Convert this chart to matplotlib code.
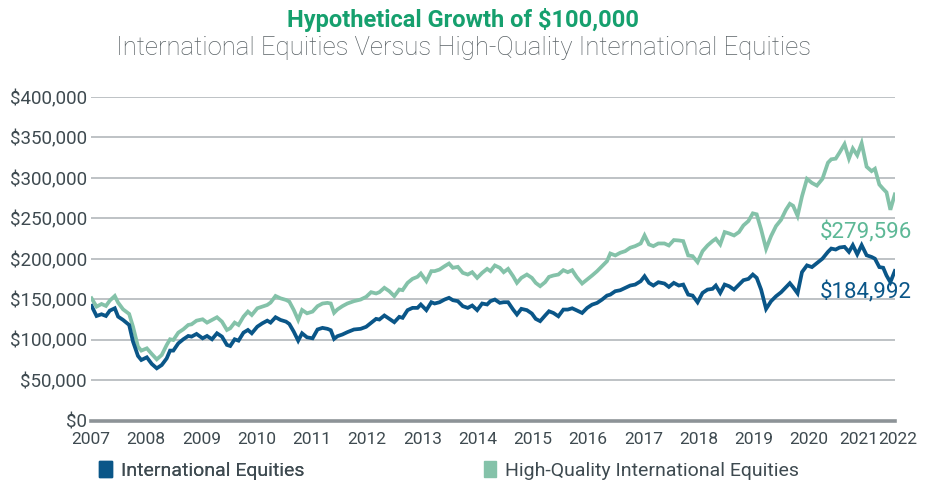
import matplotlib
matplotlib.use("Agg")
import matplotlib.pyplot as plt
import matplotlib.transforms as mtransforms
from matplotlib.patches import Patch
from matplotlib.ticker import FuncFormatter, FixedLocator

plt.rcParams['font.family'] = ['Roboto', 'DejaVu Sans']

# dates (fractional years), roughly monthly
dates = [
    2007.01, 2007.10, 2007.19, 2007.27, 2007.34, 2007.43, 2007.49, 2007.58, 2007.69, 2007.76,
    2007.85, 2007.91, 2008.01, 2008.10, 2008.19, 2008.28, 2008.37, 2008.43, 2008.49, 2008.58,
    2008.67, 2008.76, 2008.82, 2008.91,
    2009.02, 2009.10, 2009.19, 2009.28, 2009.37, 2009.46, 2009.52, 2009.60, 2009.67, 2009.76,
    2009.84, 2009.91, 2010.01, 2010.10, 2010.19, 2010.25, 2010.34, 2010.43, 2010.53, 2010.59,
    2010.67, 2010.75, 2010.82, 2010.91, 2011.01,
    2011.10, 2011.19, 2011.28, 2011.34, 2011.40, 2011.46, 2011.55, 2011.64, 2011.76, 2011.88,
    2011.98, 2012.07, 2012.16, 2012.22, 2012.31, 2012.40, 2012.49, 2012.58, 2012.64, 2012.73,
    2012.82, 2012.91, 2012.97, 2013.07, 2013.16,
    2013.22, 2013.31, 2013.40, 2013.48, 2013.55, 2013.64, 2013.73, 2013.82, 2013.90, 2013.99,
    2014.08, 2014.17, 2014.23, 2014.31, 2014.40, 2014.47, 2014.55, 2014.64, 2014.71, 2014.79,
    2014.89, 2014.98, 2015.05, 2015.13, 2015.22,
    2015.29, 2015.37, 2015.46, 2015.55, 2015.63, 2015.71, 2015.79, 2015.89, 2015.98, 2016.07,
    2016.16, 2016.25, 2016.34, 2016.40, 2016.49, 2016.58, 2016.67, 2016.76, 2016.85, 2016.95,
    2017.02, 2017.10, 2017.18, 2017.27,
    2017.38, 2017.46, 2017.55, 2017.64, 2017.72, 2017.81, 2017.89, 2017.98, 2018.07, 2018.16,
    2018.25, 2018.31, 2018.39, 2018.47, 2018.55, 2018.64, 2018.73, 2018.81, 2018.90, 2018.98,
    2019.05, 2019.13, 2019.22, 2019.31, 2019.40,
    2019.49, 2019.58, 2019.65, 2019.71, 2019.79, 2019.87, 2019.96, 2020.05, 2020.14, 2020.24,
    2020.34, 2020.40, 2020.48, 2020.55, 2020.64, 2020.72, 2020.79, 2020.87, 2020.95, 2021.04,
    2021.13, 2021.19, 2021.27, 2021.34, 2021.40, 2021.47, 2021.55,
]

# values in $ thousands
hq_intl = [
    151.2, 140.9, 144.2, 141.8, 148.4, 154.1, 145.9, 137.6, 131.9, 116.2,
    91.5, 86.6, 89.4, 82.4, 75.8, 81.2, 93.6, 100.6, 99.7, 108.8,
    112.9, 118.3, 119.1, 123.6,
    125.3, 121.2, 124.5, 127.8, 122.4, 112.1, 114.2, 121.2, 118.3, 128.6,
    134.8, 130.6, 138.9, 140.9, 143.0, 145.9, 154.1, 151.2, 149.2, 147.1,
    136.8, 124.5, 136.8, 132.7, 134.8,
    141.5, 144.8, 145.6, 144.8, 133.3, 137.4, 141.5, 144.8, 147.7, 149.7,
    153.0, 158.8, 157.2, 158.8, 164.2, 160.0, 153.9, 162.1, 161.3, 170.3,
    175.3, 177.8, 181.9, 172.4, 184.8,
    184.8, 186.8, 190.9, 194.2, 188.9, 190.1, 182.7, 180.6, 183.5, 176.5,
    182.7, 187.6, 184.8, 191.8, 188.9, 183.5, 187.6, 178.6, 170.3, 176.5,
    180.6, 176.5, 170.3, 166.2, 171.2,
    177.7, 179.4, 180.6, 186.0, 183.5, 186.0, 177.7, 169.5, 174.4, 179.4,
    184.7, 190.9, 197.1, 206.6, 204.2, 207.5, 209.5, 213.7, 215.7, 219.0,
    228.9, 217.8, 215.7, 219.0,
    219.0, 216.5, 223.2, 222.7, 221.9, 204.2, 203.3, 195.9, 209.5, 216.5,
    221.9, 224.8, 217.8, 233.1, 231.4, 228.9, 233.1, 241.3, 246.7, 256.2,
    255.0, 236.4, 212.4, 228.1, 240.5,
    248.1, 260.6, 268.0, 265.5, 253.1, 277.2, 298.8, 293.8, 290.5, 298.8,
    318.8, 323.0, 323.8, 331.3, 341.7, 323.8, 336.3, 328.0, 342.9, 313.8,
    308.4, 311.3, 291.8, 286.4, 282.2, 260.6, 279.596,
]

intl = [
    141.8, 129.4, 131.5, 129.4, 136.0, 138.9, 128.6, 124.5, 118.3, 97.7,
    80.0, 75.0, 78.3, 70.1, 64.7, 68.8, 77.0, 86.6, 86.6, 95.6,
    100.6, 104.7, 103.9, 107.2,
    101.8, 104.7, 100.6, 108.0, 103.9, 93.6, 92.3, 100.6, 98.9, 108.8,
    112.1, 108.0, 116.2, 120.3, 123.6, 121.2, 127.8, 124.5, 122.4, 119.5,
    110.0, 98.9, 108.0, 103.0, 101.8,
    112.7, 114.7, 113.5, 111.8, 101.1, 104.4, 106.5, 109.4, 112.7, 113.5,
    116.0, 120.9, 125.8, 125.0, 130.0, 125.8, 121.7, 128.3, 127.1, 136.6,
    139.4, 139.4, 143.6, 136.6, 146.4,
    144.8, 146.4, 149.7, 151.8, 148.9, 147.7, 141.5, 139.4, 142.3, 136.6,
    144.8, 143.6, 147.7, 149.7, 145.6, 146.4, 146.4, 137.4, 131.2, 138.2,
    136.6, 132.4, 125.8, 123.0, 130.0,
    135.2, 133.1, 129.0, 137.3, 137.3, 138.9, 136.4, 133.1, 139.3, 143.4,
    145.5, 149.6, 154.6, 155.8, 160.0, 161.2, 164.1, 167.0, 168.2, 172.4,
    178.5, 170.3, 167.0, 171.1,
    169.5, 165.3, 170.3, 167.0, 168.2, 155.8, 154.6, 146.3, 157.9, 162.0,
    162.9, 167.0, 157.9, 168.2, 166.2, 162.0, 168.2, 173.6, 175.2, 180.6,
    176.5, 162.0, 138.1, 147.6, 153.8,
    158.6, 164.9, 169.9, 164.9, 157.4, 183.6, 191.9, 189.8, 194.8, 200.2,
    208.6, 212.7, 211.5, 214.0, 214.8, 208.6, 216.9, 205.6, 216.9, 204.4,
    202.3, 200.2, 189.8, 189.0, 179.4, 171.1, 184.992,
]

year_ticks = [2007, 2008, 2009, 2010, 2011, 2012, 2013, 2014, 2015, 2016,
              2017, 2018, 2019, 2020, 2021, 2021.55]
year_labels = ['2007', '2008', '2009', '2010', '2011', '2012', '2013', '2014',
               '2015', '2016', '2017', '2018', '2019', '2020', '2021', '2022']

BLUE = '#0a5688'
GREEN = '#84c2a9'
GREEN_TXT = '#5db896'
TITLE_GREEN = '#16a06e'
TEXT = '#3e4a50'

fig = plt.figure(figsize=(9.26, 4.82), dpi=100)
ax = fig.add_axes([0.0983, 0.1272, 0.868, 0.6716])

hq_vals = [v * 1000 for v in hq_intl]
intl_vals = [v * 1000 for v in intl]
ax.plot(dates, hq_vals, color=GREEN, lw=2.7, solid_joinstyle='miter', zorder=3)
ax.plot(dates, intl_vals, color=BLUE, lw=2.7, solid_joinstyle='miter', zorder=4)

ax.set_ylim(0, 400000)
ax.set_xlim(2007, 2021.55)
ax.yaxis.set_major_locator(FixedLocator(range(0, 400001, 50000)))
ax.yaxis.set_major_formatter(FuncFormatter(lambda v, p: '${:,.0f}'.format(v)))
ax.xaxis.set_major_locator(FixedLocator(year_ticks))
ax.set_xticklabels(year_labels)
ax.grid(axis='y', color='#b3b8bb', lw=1.2, zorder=1)
ax.set_axisbelow(True)
for s in ['top', 'right', 'left']:
    ax.spines[s].set_visible(False)
ax.spines['bottom'].set_color('#8d9397')
ax.spines['bottom'].set_linewidth(2.6)
ax.spines['bottom'].set_zorder(2)
ax.tick_params(axis='x', length=0, labelsize=12.5, colors=TEXT, pad=8)
ax.tick_params(axis='y', length=0, labelsize=13.5, colors=TEXT, pad=3)

# the last two year labels sit close together, nudge them apart
xlabs = ax.get_xticklabels()
xlabs[-2].set_transform(xlabs[-2].get_transform() +
                        mtransforms.ScaledTranslation(-6 / 100, 0, fig.dpi_scale_trans))
xlabs[-1].set_transform(xlabs[-1].get_transform() +
                        mtransforms.ScaledTranslation(3 / 100, 0, fig.dpi_scale_trans))

# end-point labels
ax.annotate('$279,596', (dates[-1], hq_vals[-1]), xytext=(17, -38),
            textcoords='offset pixels', ha='right', va='center',
            color=GREEN_TXT, fontsize=16)
ax.annotate('$184,992', (dates[-1], intl_vals[-1]), xytext=(17, -21),
            textcoords='offset pixels', ha='right', va='center',
            color=BLUE, fontsize=16)

fig.text(0.5, 0.958, 'Hypothetical Growth of $100,000', ha='center', va='center',
         color=TITLE_GREEN, fontsize=17, fontweight='semibold')
fig.text(0.5, 0.900, 'International Equities Versus High-Quality International Equities',
         ha='center', va='center', color='#5a6266', fontsize=18.5, fontweight='light')

leg_kw = dict(loc='center left', frameon=False, handlelength=0.65, handleheight=0.85,
              handletextpad=0.45, fontsize=14, labelcolor=TEXT, borderaxespad=0)
leg1 = fig.legend(handles=[Patch(color=BLUE, label='International Equities')],
                  bbox_to_anchor=(0.099, 0.024), **leg_kw)
fig.legend(handles=[Patch(color=GREEN, label='High-Quality International Equities')],
           bbox_to_anchor=(0.514, 0.024), **leg_kw)
fig.add_artist(leg1)

fig.savefig('out.png', dpi=100)
